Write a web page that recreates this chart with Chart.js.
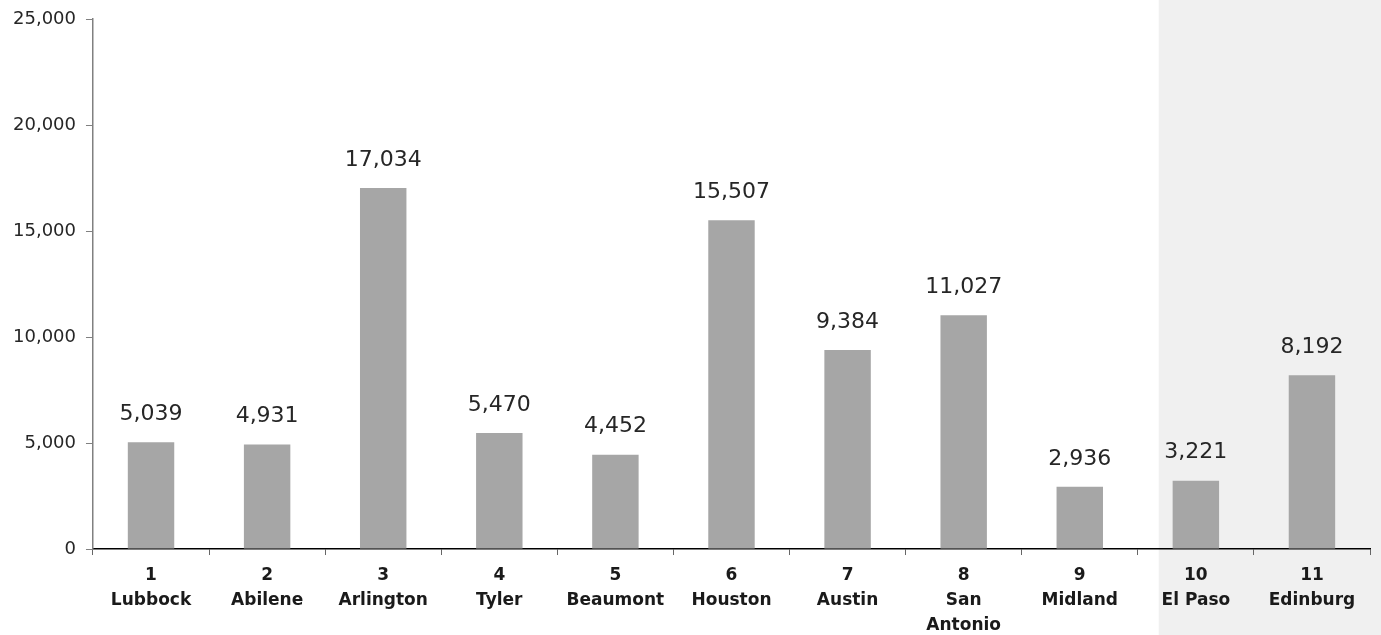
<!DOCTYPE html>
<html>
<head>
<meta charset="utf-8">
<script src="https://cdn.jsdelivr.net/npm/chart.js@4"></script>
<style>
  html, body { margin: 0; padding: 0; background: #fff; overflow: hidden; }
  #wrap { width: 1381px; height: 646px; }
</style>
</head>
<body>
<div id="wrap"><canvas id="chart"></canvas></div>
<script>
// data
const numeros = ["1", "2", "3", "4", "5", "6", "7", "8", "9", "10", "11"];
const ciudades = ["Lubbock", "Abilene", "Arlington", "Tyler", "Beaumont", "Houston", "Austin", "San Antonio", "Midland", "El Paso", "Edinburg"];
const valores = [5039, 4931, 17034, 5470, 4452, 15507, 9384, 11027, 2936, 3221, 8192];
const yTicks = [0, 5000, 10000, 15000, 20000, 25000];
const sombreadoDesde = 9; // first shaded category index (El Paso)

const FONT = "'DejaVu Sans', sans-serif";

const etiquetas = numeros.map((n, i) => {
  const nombre = ciudades[i];
  return nombre === "San Antonio" ? [n, "San", "Antonio"] : [n, nombre];
});

// shaded band behind the last categories
const fondoPlugin = {
  id: "fondo",
  beforeDraw(chart) {
    const { ctx, scales: { x } } = chart;
    const paso = x.getPixelForValue(1) - x.getPixelForValue(0);
    const left = x.getPixelForValue(sombreadoDesde) - paso * 0.32;
    ctx.save();
    ctx.fillStyle = "#f0f0f0";
    ctx.fillRect(left, 0, chart.width - left, chart.height);
    ctx.restore();
  }
};

// value labels above bars
const valoresPlugin = {
  id: "valores",
  afterDatasetsDraw(chart) {
    const { ctx } = chart;
    const meta = chart.getDatasetMeta(0);
    ctx.save();
    ctx.font = "22px " + FONT;
    ctx.fillStyle = "#262626";
    ctx.textAlign = "center";
    ctx.textBaseline = "bottom";
    meta.data.forEach((bar, i) => {
      ctx.fillText(valores[i].toLocaleString("en-US"), bar.x, bar.y - 17);
    });
    ctx.restore();
  }
};

new Chart(document.getElementById("chart"), {
  type: "bar",
  data: {
    labels: etiquetas,
    datasets: [{
      data: valores,
      backgroundColor: "#a6a6a6",
      borderWidth: 0,
      barPercentage: 0.4,
      categoryPercentage: 1
    }]
  },
  options: {
    responsive: true,
    maintainAspectRatio: false,
    animation: false,
    layout: { padding: { top: 0, right: 11, left: 3, bottom: 0 } },
    plugins: {
      legend: { display: false },
      tooltip: { enabled: false }
    },
    scales: {
      x: {
        border: { display: true, color: "#000", width: 1.5 },
        grid: { drawOnChartArea: false, drawTicks: true, tickLength: 6, color: "#666", offset: true },
        ticks: {
          color: "#1a1a1a",
          font: { family: FONT, size: 17, weight: "bold", lineHeight: 1.47 },
          maxRotation: 0,
          autoSkip: false,
          padding: 8
        }
      },
      y: {
        min: 0,
        max: 25000,
        afterBuildTicks(axis) { axis.ticks = yTicks.map(v => ({ value: v })); },
        border: { display: true, color: "#808080", width: 1.5 },
        grid: { drawOnChartArea: false, drawTicks: true, tickLength: 7, color: "#808080" },
        ticks: {
          color: "#262626",
          font: { family: FONT, size: 18, lineHeight: 1.0 },
          padding: 10,
          callback: v => v.toLocaleString("en-US")
        }
      }
    }
  },
  plugins: [fondoPlugin, valoresPlugin]
});
</script>
</body>
</html>
